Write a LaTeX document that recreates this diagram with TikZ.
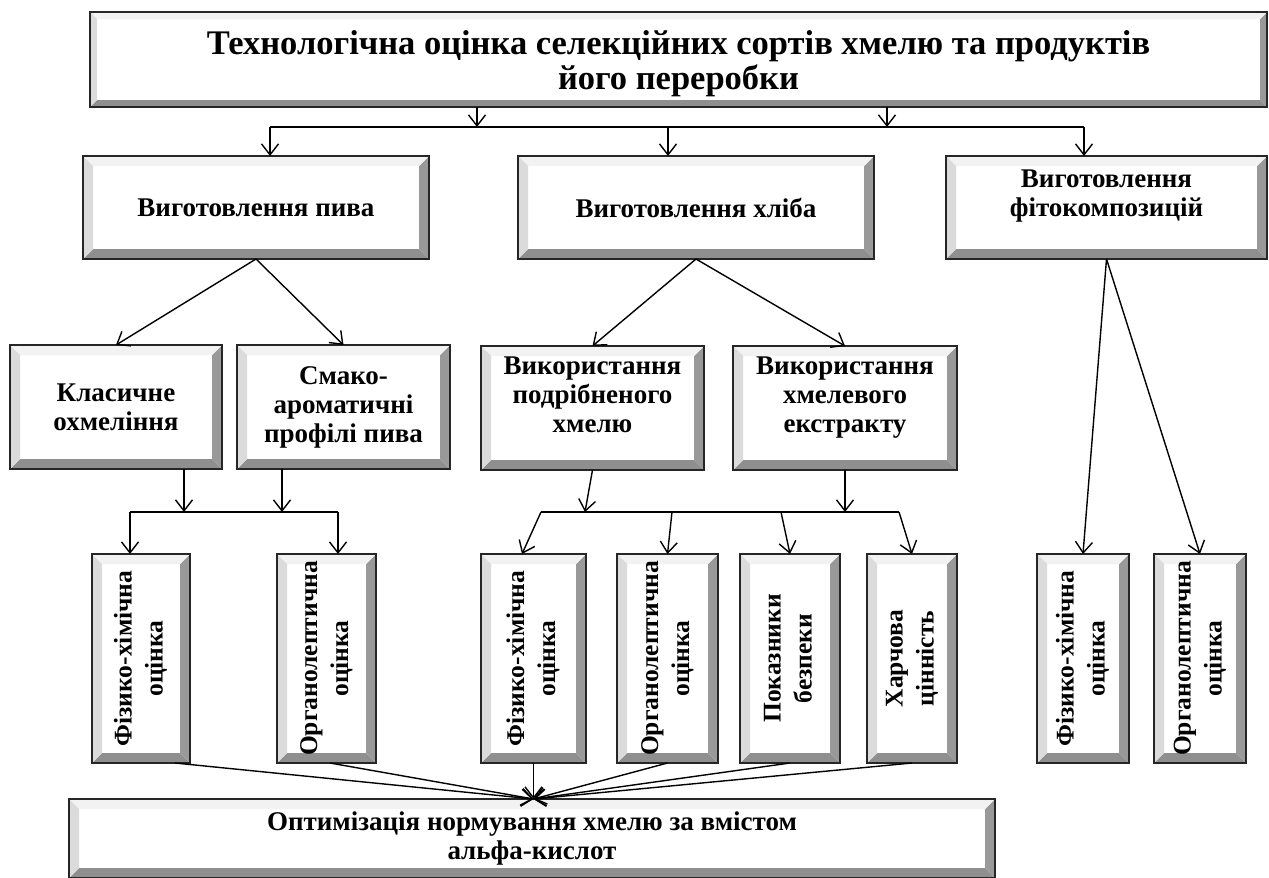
\documentclass[tikz,border=0pt]{standalone}
\usepackage{fontspec}
\setmainfont{Liberation Serif}
\usetikzlibrary{arrows.meta,calc}

\colorlet{bevtop}{black!5}
\colorlet{bevleft}{black!14}
\colorlet{bevright}{black!40}
\colorlet{bevbottom}{black!44}

\newcommand{\vlab}[2]{\rotatebox{90}{\begin{tabular}{@{}c@{}}#1\\#2\end{tabular}}}
\newcommand{\uplab}[2][5pt]{\raisebox{#1}[0pt][0pt]{\begin{tabular}{@{}c@{}}#2\end{tabular}}}

\tikzset{
  bevel size/.store in=\bevsize, bevel size=10pt,
  bevel/.style={draw=black!85, line width=1.4pt, fill=white, inner sep=0pt, outer sep=0pt,
    align=center, font=\bfseries\fontsize{27}{29}\selectfont,
    path picture={
      \fill[bevbottom] let \p1=(path picture bounding box.south west), \p2=(path picture bounding box.north east) in
        (\x1,\y1) -- (\x2,\y1) -- (\x2-\bevsize,\y1+\bevsize) -- (\x1+\bevsize,\y1+\bevsize) -- cycle;
      \fill[bevright] let \p1=(path picture bounding box.south west), \p2=(path picture bounding box.north east) in
        (\x2,\y1) -- (\x2,\y2) -- (\x2-\bevsize,\y2-\bevsize) -- (\x2-\bevsize,\y1+\bevsize) -- cycle;
      \fill[bevtop] let \p1=(path picture bounding box.south west), \p2=(path picture bounding box.north east) in
        (\x2,\y2) -- (\x1,\y2) -- (\x1+\bevsize,\y2-\bevsize) -- (\x2-\bevsize,\y2-\bevsize) -- cycle;
      \fill[bevleft] let \p1=(path picture bounding box.south west), \p2=(path picture bounding box.north east) in
        (\x1,\y2) -- (\x1,\y1) -- (\x1+\bevsize,\y1+\bevsize) -- (\x1+\bevsize,\y2-\bevsize) -- cycle;
    }},
  vbox/.style={bevel, minimum height=209pt, font=\bfseries\fontsize{25.5}{31}\selectfont},
  arr/.style={-{Straight Barb[length=11pt,width=17pt]}, line width=1.4pt},
  line/.style={line width=1.4pt}
}

\begin{document}
\begin{tikzpicture}[x=1pt,y=-1pt]
            \useasboundingbox (0,0) rectangle (1269,878);

            \node[bevel, bevel size=7pt, minimum width=1177pt, minimum height=95pt, font=\bfseries\fontsize{34.5}{35}\selectfont] (top) at (678.5,59.5)
                {\uplab[-11.5pt]{Технологічна оцінка селекційних сортів хмелю та продуктів\\його переробки}};

            \node[bevel, minimum width=346pt, minimum height=103pt] (beer) at (256,207.5) {Виготовлення пива};
            \node[bevel, minimum width=356pt, minimum height=103pt] (bread) at (696,207.5) {Виготовлення хліба};
            \node[bevel, minimum width=321pt, minimum height=103pt] (phyto) at (1106.5,207.5) {\uplab{Виготовлення\\фітокомпозицій}};

            \node[bevel, minimum width=212pt, minimum height=124pt] (klas) at (116,407) {Класичне\\охмеління};
            \node[bevel, minimum width=213pt, minimum height=124pt] (smako) at (343.5,407) {Смако-\\ароматичні\\профілі пива};
            \node[bevel, minimum width=223pt, minimum height=124pt] (podr) at (592.5,408) {\uplab[4pt]{Використання\\подрібненого\\хмелю}};
            \node[bevel, minimum width=224pt, minimum height=124pt] (ekstr) at (845,408) {\uplab[4pt]{Використання\\хмелевого\\екстракту}};

            \node[vbox, minimum width=98pt] (l1) at (141,658.5) {\vlab{Фізико-хімічна}{оцінка}};
            \node[vbox, minimum width=99pt] (l2) at (326.5,658.5) {\vlab{Органолептична}{оцінка}};
            \node[vbox, minimum width=105pt] (m1) at (533.5,658.5) {\vlab{Фізико-хімічна}{оцінка}};
            \node[vbox, minimum width=101pt] (m2) at (667.5,658.5) {\vlab{Органолептична}{оцінка}};
            \node[vbox, minimum width=100pt] (m3) at (790,658.5) {\vlab{Показники}{безпеки}};
            \node[vbox, minimum width=90pt] (m4) at (912,658.5) {\vlab{Харчова}{цінність}};
            \node[vbox, minimum width=92pt] (r1) at (1083,658.5) {\vlab{Фізико-хімічна}{оцінка}};
            \node[vbox, minimum width=92pt] (r2) at (1200,658.5) {\vlab{Органолептична}{оцінка}};

            \node[bevel, minimum width=926pt, minimum height=79pt] (opt) at (532,838.5)
                {Оптимізація нормування хмелю за вмістом\\альфа-кислот};

            \coordinate (a1) at (477,127);
            \coordinate (a2) at (887,127);
            \coordinate (b1) at (270,127);
            \coordinate (b2) at (668,127);
            \coordinate (b3) at (1084,127);
            \coordinate (c1) at (184,512);
            \coordinate (c2) at (282,512);
            \coordinate (d1) at (130,512);
            \coordinate (d2) at (338,512);
            \coordinate (e1) at (585,512);
            \coordinate (e2) at (845,512);
            \coordinate (f1) at (541,512);
            \coordinate (f2) at (672,512);
            \coordinate (f3) at (781,512);
            \coordinate (f4) at (899,512);
            \coordinate (hub) at (m1.south |- opt.north);

            \draw[arr] (top.south -| a1) -- (a1);
            \draw[arr] (top.south -| a2) -- (a2);
            \draw[line] (b1) -- (b3);
            \draw[arr] (b1) -- (beer.north -| b1);
            \draw[arr] (b2) -- (bread.north -| b2);
            \draw[arr] (b3) -- (phyto.north -| b3);

            \draw[arr] (beer.south) -- (klas.north);
            \draw[arr] (beer.south) -- (smako.north);
            \draw[arr] (bread.south) -- (podr.north);
            \draw[arr] (bread.south) -- (ekstr.north);
            \draw[arr] (phyto.south) -- (r1.north);
            \draw[arr] (phyto.south) -- (r2.north);

            \draw[arr] (klas.south -| c1) -- (c1);
            \draw[arr] (smako.south -| c2) -- (c2);
            \draw[line] (d1) -- (d2);
            \draw[arr] (d1) -- (l1.north -| d1);
            \draw[arr] (d2) -- (l2.north -| d2);

            \draw[arr] (podr.south) -- (e1);
            \draw[arr] (ekstr.south) -- (e2);
            \draw[line] (f1) -- (f4);
            \draw[arr] (f1) -- (m1.north -| 522,0);
            \draw[arr] (f2) -- (m2.north);
            \draw[arr] (f3) -- (m3.north);
            \draw[arr] (f4) -- (m4.north);

            \draw[arr] (l1.south -| 175,0) -- (hub);
            \draw[arr] (l2.south -| 330,0) -- (hub);
            \draw[arr] (m1.south) -- (hub);
            \draw[arr] (m2.south) -- (hub);
            \draw[arr] (m3.south) -- (hub);
            \draw[arr] (m4.south) -- (hub);
\end{tikzpicture}
\end{document}
